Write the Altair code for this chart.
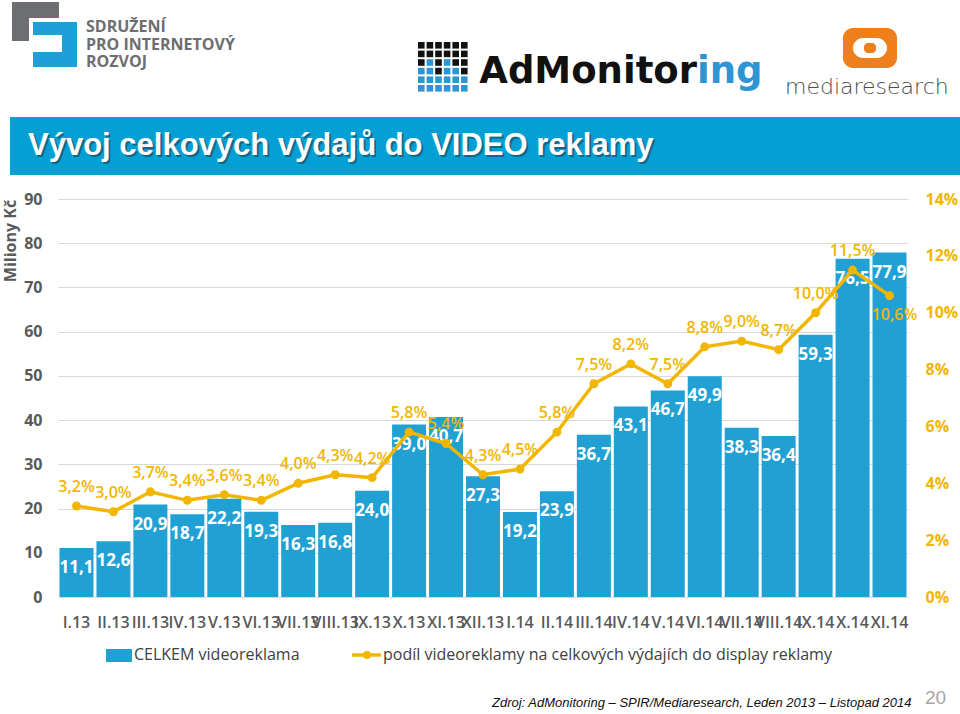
import altair as alt
import pandas as pd

months = ["I.13", "II.13", "III.13", "IV.13", "V.13", "VI.13", "VII.13", "VIII.13",
          "IX.13", "X.13", "XI.13", "XII.13", "I.14", "II.14", "III.14", "IV.14",
          "V.14", "VI.14", "VII.14", "VIII.14", "IX.14", "X.14", "XI.14"]
spend = [11.1, 12.6, 20.9, 18.7, 22.2, 19.3, 16.3, 16.8, 24.0, 39.0, 40.7, 27.3,
         19.2, 23.9, 36.7, 43.1, 46.7, 49.9, 38.3, 36.4, 59.3, 76.5, 77.9]
share_pct = [3.2, 3.0, 3.7, 3.4, 3.6, 3.4, 4.0, 4.3, 4.2, 5.8, 5.4, 4.3,
             4.5, 5.8, 7.5, 8.2, 7.5, 8.8, 9.0, 8.7, 10.0, 11.5, 10.6]
left_ticks = [0, 10, 20, 30, 40, 50, 60, 70, 80, 90]
right_ticks = [0, 0.02, 0.04, 0.06, 0.08, 0.10, 0.12, 0.14]

BLUE = "#21A1D3"
GOLD = "#F2B600"
GRAY = "#595959"
OX, OY = 58, 199  # plot origin in page pixels

df = pd.DataFrame({
    "month": months,
    "spend": spend,
    "share": [v / 100 for v in share_pct],
    "spend_lbl": [f"{v:.1f}".replace(".", ",") for v in spend],
    "share_lbl": [f"{v:.1f}".replace(".", ",") + "%" for v in share_pct],
})

base = alt.Chart(df)
x = alt.X("month:N", sort=months,
          scale=alt.Scale(paddingInner=0.08, paddingOuter=0.04),
          axis=alt.Axis(title=None, labelAngle=0, labelOverlap=False, ticks=False,
                        tickSize=0, domain=False, grid=False, labelFont="Open Sans",
                        labelFontWeight=600, labelFontSize=16, labelColor=GRAY,
                        labelPadding=17))

yl = alt.Y("spend:Q", scale=alt.Scale(domain=[0, 90], nice=False),
           axis=alt.Axis(title=None, values=left_ticks, grid=True, gridColor="#D9D9D9",
                         domain=False, ticks=False, tickSize=0, labelFont="Open Sans",
                         labelFontWeight="bold", labelFontSize=16, labelColor=GRAY,
                         labelPadding=16, orient="left"))
bars = base.mark_bar(color=BLUE).encode(x=x, y=yl)
bar_lbl = base.mark_text(baseline="middle", dy=20, color="white", font="Open Sans",
                         fontWeight="bold", fontSize=17).encode(
    x=x, y=alt.Y("spend:Q"), text="spend_lbl:N")
left = alt.layer(bars, bar_lbl)

yr = alt.Y("share:Q", scale=alt.Scale(domain=[0, 0.14], nice=False),
           axis=alt.Axis(title=None, values=right_ticks, format=".0%", grid=False,
                         domain=False, ticks=False, tickSize=0, labelFont="Open Sans",
                         labelFontWeight="bold", labelFontSize=16, labelColor=GOLD,
                         labelPadding=17, orient="right"))
line = base.mark_line(color=GOLD, strokeWidth=3.5).encode(x=x, y=yr)
pts = base.mark_circle(color=GOLD, size=80, opacity=1).encode(x=x, y=alt.Y("share:Q"))
share_lbl = base.transform_filter(alt.datum.month != "XI.14").mark_text(
    baseline="middle", dy=-19, color=GOLD, font="Open Sans", fontWeight=600,
    fontSize=16).encode(x=x, y=alt.Y("share:Q"), text="share_lbl:N")
share_lbl_last = base.transform_filter(alt.datum.month == "XI.14").mark_text(
    baseline="middle", dy=19, dx=5, color=GOLD, font="Open Sans", fontWeight=600,
    fontSize=16).encode(x=x, y=alt.Y("share:Q"), text="share_lbl:N")
right = alt.layer(line, pts, share_lbl, share_lbl_last)

one = pd.DataFrame({"a": [0]})


def txt(text, X, Y, **kw):
    return alt.Chart(one).mark_text(text=text, **kw).encode(
        x=alt.value(X - OX), y=alt.value(Y - OY))


def rect(x1, y1, x2, y2, color, **kw):
    return alt.Chart(one).mark_rect(color=color, **kw).encode(
        x=alt.value(x1 - OX), x2=alt.value(x2 - OX),
        y=alt.value(y1 - OY), y2=alt.value(y2 - OY))


deco = []
# title banner
deco.append(rect(10, 117, 960, 175, "#04A0D4"))
title = "Vývoj celkových výdajů do VIDEO reklamy"
deco.append(txt(title, 30, 157, align="left", baseline="alphabetic", font="Liberation Sans",
                fontWeight="bold", fontSize=31, color="#1A4F66", opacity=0.7))
deco.append(txt(title, 28, 155, align="left", baseline="alphabetic", font="Liberation Sans",
                fontWeight="bold", fontSize=31, color="white"))

# SPIR logo
deco.append(rect(12, 2, 59, 18, "#6D6E71"))
deco.append(rect(12, 2, 29, 41, "#6D6E71"))
deco.append(rect(33, 22, 77, 35, "#1E9FD8"))
deco.append(rect(62, 22, 77, 67, "#1E9FD8"))
deco.append(rect(33, 52, 77, 67, "#1E9FD8"))
for i, s in enumerate(["SDRUŽENÍ", "PRO INTERNETOVÝ", "ROZVOJ"]):
    deco.append(txt(s, 86, 32 + i * 17.5, align="left", baseline="alphabetic",
                    font="Open Sans", fontWeight="bold", fontSize=16, color="#6D6E71"))

# AdMonitoring logo
grid_rows = ["KKKKKK", "KKKKKK", "KBKBKK", "BBKBBK", "BBBBBB", "BBBBBB"]
for r, row in enumerate(grid_rows):
    for c, ch in enumerate(row):
        x0 = 418 + c * 8.6
        y0 = 42 + r * 8.6
        deco.append(rect(x0, y0, x0 + 6.6, y0 + 6.6, "#111111" if ch == "K" else "#2E95D3"))
deco.append(txt("AdMonitor", 697, 83, align="right", baseline="alphabetic",
                font="DejaVu Sans", fontWeight="bold", fontSize=37, color="#111111"))
deco.append(txt("ing", 697, 83, align="left", baseline="alphabetic",
                font="DejaVu Sans", fontWeight="bold", fontSize=37, color="#2E95D3"))

# mediaresearch logo
deco.append(rect(843, 28, 897, 68, "#EE7F1A", cornerRadius=10))
deco.append(rect(853, 38, 887, 58, "white", cornerRadius=10))
deco.append(rect(864, 43, 876, 53, "#EE7F1A", cornerRadius=4))
deco.append(txt("mediaresearch", 785, 94, align="left", baseline="alphabetic",
                font="DejaVu Sans", fontWeight=300, fontSize=22, color="#4D4D4D"))

# y axis title
deco.append(txt("Miliony Kč", 11, 241, align="center", baseline="middle", angle=270,
                font="Open Sans", fontWeight="bold", fontSize=16, color=GRAY))

# legend
deco.append(rect(106, 649, 132, 662, BLUE))
deco.append(txt("CELKEM videoreklama", 134, 655, align="left", baseline="middle",
                font="Open Sans", fontSize=16, color="#404040"))
deco.append(alt.Chart(one).mark_rule(color=GOLD, strokeWidth=3.5).encode(
    x=alt.value(352 - OX), x2=alt.value(381 - OX), y=alt.value(655 - OY)))
deco.append(alt.Chart(one).mark_circle(color=GOLD, size=64, opacity=1).encode(
    x=alt.value(367 - OX), y=alt.value(655 - OY)))
deco.append(txt("podíl videoreklamy na celkových výdajích do display reklamy", 383, 655,
                align="left", baseline="middle", font="Open Sans", fontSize=16,
                color="#404040"))

# source and page number
deco.append(txt("Zdroj: AdMonitoring – SPIR/Mediaresearch, Leden 2013 – Listopad 2014",
                492, 703, align="left", baseline="middle", font="Liberation Sans",
                fontStyle="italic", fontSize=13, color="#111111"))
deco.append(txt("20", 925, 698, align="left", baseline="middle", font="Liberation Sans",
                fontSize=19, color="#A6A6A6"))

chart = alt.layer(left, right, *deco).resolve_scale(y="independent").properties(
    width=850, height=398,
    padding={"left": OX, "top": OY, "right": 52, "bottom": 117},
    autosize=alt.AutoSizeParams(type="none"),
    background="white",
).configure_view(stroke=None)

chart.save("out.html", embed_options={"renderer": "svg", "actions": False})
